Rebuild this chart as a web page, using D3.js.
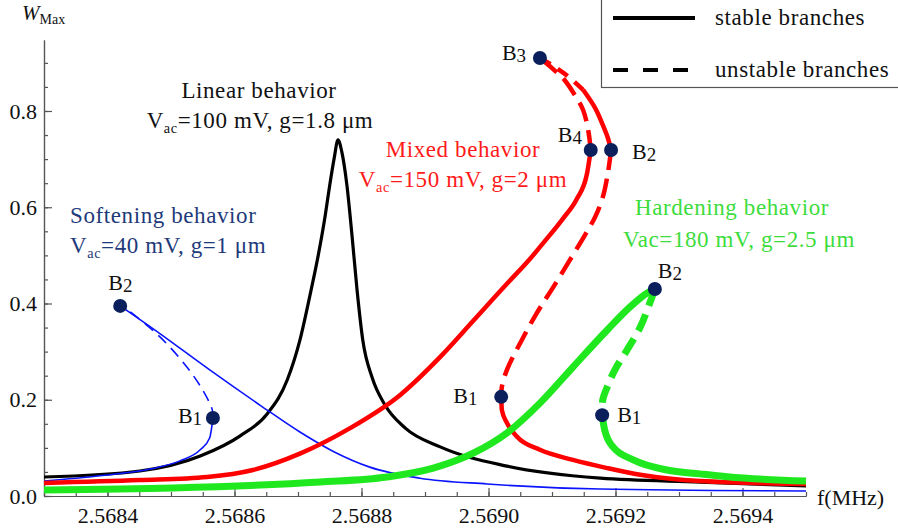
<!DOCTYPE html>
<html>
<head>
<meta charset="utf-8">
<script src="https://cdn.jsdelivr.net/npm/d3@7"></script>
<style>
  body { margin: 0; background: #fff; }
  svg { display: block; font-family: "Liberation Serif", serif; }
</style>
</head>
<body>
<div class="canvas"></div>
<script>
// frequency (MHz), W_Max
const blueLower = [[2.568300,0.031],[2.568388,0.042],[2.568467,0.056],[2.568514,0.073],[2.568546,0.096],[2.568561,0.121],[2.568566,0.162]];
const blueUnstable = [[2.568566,0.162],[2.568565,0.179],[2.568550,0.220],[2.568525,0.268],[2.568483,0.330],[2.568431,0.387],[2.568420,0.395]];
const blueUpper = [[2.568420,0.395],[2.568483,0.337],[2.568561,0.262],[2.568640,0.189],[2.568703,0.133],[2.568758,0.091],[2.568813,0.060],[2.568892,0.037],[2.568998,0.025],[2.569176,0.0145],[2.569500,0.0104]];

const blackLinear = [[2.568300,0.0395],[2.568451,0.052],[2.568546,0.083],[2.568609,0.125],[2.568651,0.170],[2.568683,0.241],[2.568703,0.324],[2.568719,0.418],[2.568732,0.501],[2.568743,0.584],[2.568750,0.646],[2.568757,0.702],[2.568763,0.740],[2.568769,0.715],[2.568777,0.646],[2.568785,0.542],[2.568793,0.428],[2.568802,0.324],[2.568817,0.245],[2.568837,0.189],[2.568869,0.141],[2.568924,0.102],[2.569029,0.062],[2.569176,0.037],[2.569333,0.029],[2.569500,0.021]];

const redLower = [[2.568300,0.027],[2.568451,0.033],[2.568557,0.0395],[2.568629,0.054],[2.568703,0.088],[2.568782,0.141],[2.568861,0.210],[2.568924,0.289],[2.568976,0.364],[2.569029,0.441],[2.569061,0.486],[2.569089,0.530],[2.569117,0.576],[2.569139,0.617],[2.569155,0.669],[2.569161,0.719]];
const redInner = [[2.569161,0.719],[2.569157,0.760],[2.569149,0.802],[2.569136,0.833],[2.569120,0.864],[2.569100,0.889],[2.569081,0.910]];
const redOuterDash = [[2.569081,0.910],[2.569102,0.8935],[2.569128,0.869],[2.569149,0.844]];
const redOuter = [[2.569149,0.844],[2.569168,0.806],[2.569180,0.771],[2.569188,0.744],[2.569193,0.719]];
const redUnstable = [[2.569193,0.719],[2.569188,0.671],[2.569180,0.621],[2.569168,0.580],[2.569150,0.538],[2.569128,0.490],[2.569102,0.434],[2.569076,0.380],[2.569050,0.318],[2.569029,0.262],[2.569021,0.2265],[2.569020,0.206]];
const redUpperRight = [[2.569020,0.206],[2.569021,0.179],[2.569029,0.152],[2.569045,0.123],[2.569081,0.096],[2.569133,0.075],[2.569187,0.058],[2.569239,0.044],[2.569333,0.031],[2.569500,0.025]];

const greenLower = [[2.568300,0.0125],[2.568503,0.0166],[2.568735,0.029],[2.568840,0.0395],[2.568913,0.058],[2.568976,0.089],[2.569029,0.131],[2.569081,0.193],[2.569133,0.268],[2.569187,0.345],[2.569223,0.393],[2.569250,0.422],[2.569262,0.430]];
const greenUnstable = [[2.569262,0.430],[2.569254,0.401],[2.569239,0.351],[2.569218,0.303],[2.569199,0.262],[2.569187,0.2265],[2.569180,0.200],[2.569179,0.168]];
const greenRight = [[2.569179,0.168],[2.569183,0.137],[2.569196,0.102],[2.569228,0.075],[2.569281,0.054],[2.569333,0.046],[2.569376,0.040],[2.569500,0.031]];

// bifurcation points: [f, W]
const points = [
  [2.568420, 0.395], [2.568566, 0.162],
  [2.569081, 0.910], [2.569161, 0.719],
  [2.569193, 0.719], [2.569020, 0.206],
  [2.569262, 0.430], [2.569179, 0.168]
];
const pointNames = ["2", "1", "3", "4", "2", "1", "2", "1"];

const xMajor = [2.5684, 2.5686, 2.5688, 2.5690, 2.5692, 2.5694];
const xMinor = d3.range(0, 25).map(i => 2.5683 + i * 0.00005);
const yMajor = [0, 0.2, 0.4, 0.6, 0.8];
const yMinor = d3.range(0, 19).map(i => i * 0.05);

const W = 898, H = 532;
const x = d3.scaleLinear().domain([2.5683, 2.5695]).range([44, 806]);
const y = d3.scaleLinear().domain([0, 0.9475]).range([496, 40]);

const svg = d3.select(".canvas").append("svg").attr("width", W).attr("height", H);

// axes
const gx = svg.append("g").attr("transform", "translate(0,496)");
gx.call(d3.axisBottom(x).tickValues(xMinor).tickSizeInner(-4).tickSizeOuter(0).tickFormat(""));
gx.append("g").call(d3.axisBottom(x).tickValues(xMajor).tickSizeInner(-8).tickSizeOuter(0).tickPadding(11).tickFormat(d3.format(".4f")));
const gy = svg.append("g").attr("transform", "translate(44,0)");
gy.call(d3.axisLeft(y).tickValues(yMinor).tickSizeInner(-4).tickSizeOuter(0).tickFormat(""));
gy.append("g").call(d3.axisLeft(y).tickValues(yMajor).tickSizeInner(-8).tickSizeOuter(0).tickPadding(7).tickFormat(d3.format(".1f")));
svg.selectAll(".domain, .tick line").attr("stroke", "#555").attr("stroke-width", 1.2);
svg.selectAll(".tick text").attr("font-family", "Liberation Serif").attr("font-size", 22).attr("fill", "#111");

const smooth = d3.line().x(d => x(d[0])).y(d => y(d[1])).curve(d3.curveMonotoneX);
const bent = d3.line().x(d => x(d[0])).y(d => y(d[1])).curve(d3.curveCatmullRom.alpha(0.5));

function branch(data, gen, color, width, dash) {
  svg.append("path").datum(data)
    .attr("d", gen)
    .attr("fill", "none")
    .attr("stroke", color)
    .attr("stroke-width", width)
    .attr("stroke-linejoin", "round")
    .attr("stroke-dasharray", dash || null);
}

branch(blackLinear, smooth, "#000", 3.2);
branch(blueLower, smooth, "#0a14ff", 1.6);
branch(blueUpper, smooth, "#0a14ff", 1.6);
branch(blueUnstable, bent, "#0a14ff", 1.6, "11,7");
branch(redLower, smooth, "#ff0000", 4.5);
branch(redInner, bent, "#ff0000", 4.5, "20,9");
branch(redOuterDash, bent, "#ff0000", 4.5, "12,9");
branch(redOuter, bent, "#ff0000", 4.5);
branch(redUnstable, bent, "#ff0000", 4.5, "20,9");
branch(redUpperRight, smooth, "#ff0000", 4.5);
branch(greenLower, smooth, "#1fe81f", 7);
branch(greenUnstable, bent, "#1fe81f", 7, "18,9");
branch(greenRight, smooth, "#1fe81f", 7);

svg.selectAll("circle.bp").data(points).enter().append("circle")
  .attr("class", "bp")
  .attr("cx", d => x(d[0])).attr("cy", d => y(d[1])).attr("r", 7)
  .attr("fill", "#0b1f5c");

// text helper: strings are plain, {s: ...} parts are subscripts
function label(px, py, parts, color, size, anchor) {
  const t = svg.append("text").attr("x", px).attr("y", py)
    .attr("fill", color).attr("font-size", size)
    .attr("letter-spacing", "0.6px")
    .attr("text-anchor", anchor || "start");
  let down = false;
  parts.forEach(p => {
    if (typeof p === "object") {
      t.append("tspan").attr("font-size", size * 0.62).attr("dy", 5).text(p.s);
      down = true;
    } else {
      t.append("tspan").attr("dy", down ? -5 : null).text(p);
      down = false;
    }
  });
  return t;
}

// B labels (offsets from the points)
const bOffsets = [[-12, -16], [-35, 5], [-38, 2], [-33, -8], [21, 9], [-48, 6], [3, -11], [15, 7]];
points.forEach((p, i) => {
  const t = svg.append("text")
    .attr("x", x(p[0]) + bOffsets[i][0]).attr("y", y(p[1]) + bOffsets[i][1])
    .attr("font-size", 22).attr("fill", "#111");
  t.append("tspan").text("B");
  t.append("tspan").attr("font-size", 19).attr("dy", 2).text(pointNames[i]);
});

label(259, 98, ["Linear behavior"], "#111", 23, "middle");
label(260, 128, ["V", {s: "ac"}, "=100 mV, g=1.8 μm"], "#111", 23, "middle");
label(463, 157, ["Mixed behavior"], "#ff1a1a", 23, "middle");
label(463, 187, ["V", {s: "ac"}, "=150 mV, g=2 μm"], "#ff1a1a", 23, "middle");
label(70, 223, ["Softening behavior"], "#1e3a7a", 23);
label(70, 253, ["V", {s: "ac"}, "=40 mV, g=1 μm"], "#1e3a7a", 23);
label(732, 215, ["Hardening behavior"], "#3ddc3d", 23, "middle");
label(739, 247, ["Vac=180 mV, g=2.5 μm"], "#3ddc3d", 23, "middle");

// axis titles
const wl = svg.append("text").attr("x", 22).attr("y", 20).attr("fill", "#111");
wl.append("tspan").attr("font-style", "italic").attr("font-size", 21).text("W");
wl.append("tspan").attr("font-size", 14).attr("dy", 4).text("Max");
svg.append("text").attr("x", 817).attr("y", 505).attr("font-size", 22).attr("fill", "#111").text("f(MHz)");

// legend
const lg = svg.append("g");
lg.append("rect").attr("x", 601.5).attr("y", -2).attr("width", 300).attr("height", 89.5)
  .attr("fill", "#fff").attr("stroke", "#555").attr("stroke-width", 1.2);
lg.append("line").attr("x1", 613).attr("x2", 695).attr("y1", 18).attr("y2", 18)
  .attr("stroke", "#000").attr("stroke-width", 4);
lg.append("line").attr("x1", 613).attr("x2", 695).attr("y1", 70).attr("y2", 70)
  .attr("stroke", "#000").attr("stroke-width", 4).attr("stroke-dasharray", "15,15");
label(715, 25, ["stable branches"], "#111", 23);
label(715, 77, ["unstable branches"], "#111", 23);
</script>
</body>
</html>
